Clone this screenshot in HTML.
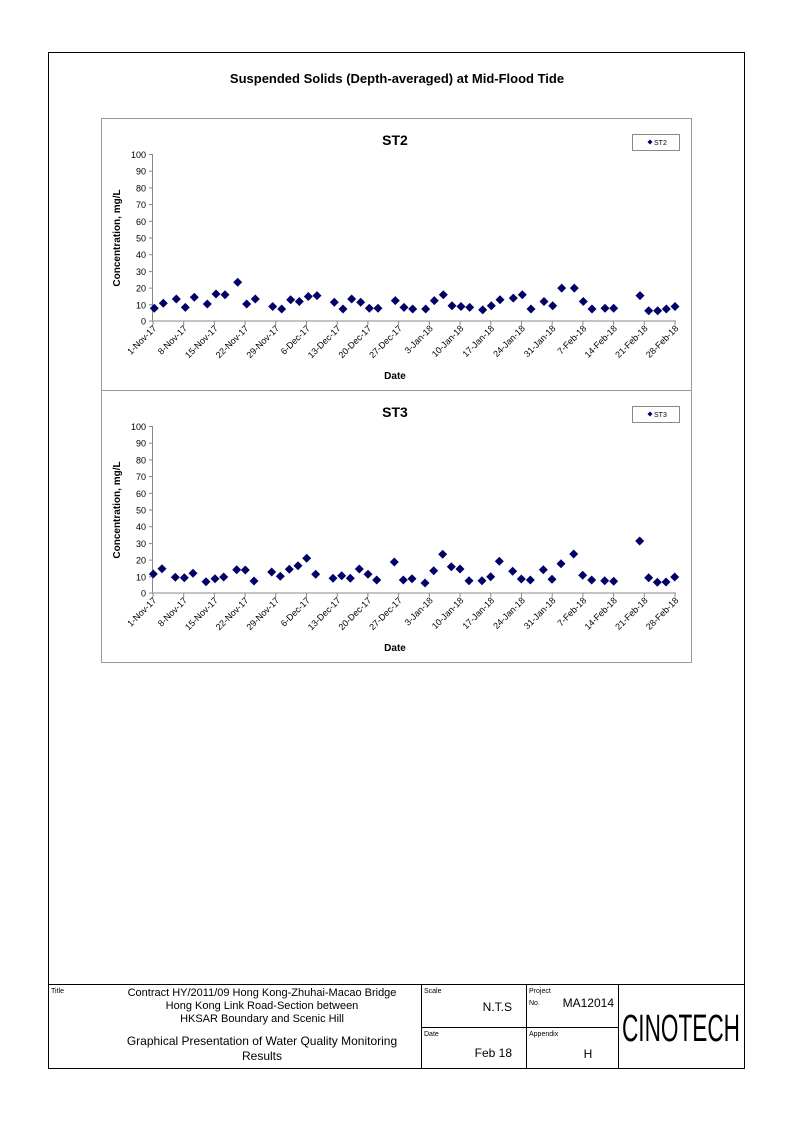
<!DOCTYPE html>
<html><head><meta charset="utf-8"><style>
html,body{margin:0;padding:0;background:#fff;}
svg text{font-family:"Liberation Sans",Arial,sans-serif;}
</style></head><body>
<svg width="794" height="1123" viewBox="0 0 794 1123" xmlns="http://www.w3.org/2000/svg">
<rect x="0" y="0" width="794" height="1123" fill="#fff"/>
<rect x="48.5" y="52.5" width="696" height="1016" fill="none" stroke="#000" stroke-width="1"/>
<text x="397" y="83" font-size="13" font-weight="bold" text-anchor="middle">Suspended Solids (Depth-averaged) at Mid-Flood Tide</text>

<!-- chart boxes -->
<rect x="101.5" y="118.5" width="590" height="272" fill="none" stroke="#999" stroke-width="1"/>
<rect x="101.5" y="390.5" width="590" height="272" fill="none" stroke="#999" stroke-width="1"/>

<defs>
<g id="axes">
<line x1="152.5" y1="0" x2="152.5" y2="167" stroke="#888"/>
<line x1="152" y1="167" x2="676" y2="167" stroke="#888"/>
<g stroke="#888">
<line x1="149" y1="0.5" x2="152" y2="0.5"/><line x1="149" y1="17.2" x2="152" y2="17.2"/><line x1="149" y1="33.9" x2="152" y2="33.9"/><line x1="149" y1="50.6" x2="152" y2="50.6"/><line x1="149" y1="67.3" x2="152" y2="67.3"/><line x1="149" y1="84" x2="152" y2="84"/><line x1="149" y1="100.7" x2="152" y2="100.7"/><line x1="149" y1="117.4" x2="152" y2="117.4"/><line x1="149" y1="134.1" x2="152" y2="134.1"/><line x1="149" y1="150.8" x2="152" y2="150.8"/><line x1="149" y1="167" x2="152" y2="167"/>
</g>
<g font-size="9" text-anchor="end">
<text x="146" y="4">100</text><text x="146" y="20.7">90</text><text x="146" y="37.4">80</text><text x="146" y="54.1">70</text><text x="146" y="70.8">60</text><text x="146" y="87.5">50</text><text x="146" y="104.2">40</text><text x="146" y="120.9">30</text><text x="146" y="137.6">20</text><text x="146" y="154.3">10</text><text x="146" y="170.5">0</text>
</g>
<g stroke="#888">
<line x1="153" y1="167" x2="153" y2="171"/><line x1="183.7" y1="167" x2="183.7" y2="171"/><line x1="214.4" y1="167" x2="214.4" y2="171"/><line x1="245.1" y1="167" x2="245.1" y2="171"/><line x1="275.8" y1="167" x2="275.8" y2="171"/><line x1="306.5" y1="167" x2="306.5" y2="171"/><line x1="337.2" y1="167" x2="337.2" y2="171"/><line x1="367.9" y1="167" x2="367.9" y2="171"/><line x1="398.6" y1="167" x2="398.6" y2="171"/><line x1="429.4" y1="167" x2="429.4" y2="171"/><line x1="460.1" y1="167" x2="460.1" y2="171"/><line x1="490.8" y1="167" x2="490.8" y2="171"/><line x1="521.5" y1="167" x2="521.5" y2="171"/><line x1="552.2" y1="167" x2="552.2" y2="171"/><line x1="582.9" y1="167" x2="582.9" y2="171"/><line x1="613.6" y1="167" x2="613.6" y2="171"/><line x1="644.3" y1="167" x2="644.3" y2="171"/><line x1="675" y1="167" x2="675" y2="171"/>
</g>
<g font-size="9" text-anchor="end">
<text transform="translate(157,175) rotate(-45)">1-Nov-17</text>
<text transform="translate(187.7,175) rotate(-45)">8-Nov-17</text>
<text transform="translate(218.4,175) rotate(-45)">15-Nov-17</text>
<text transform="translate(249.1,175) rotate(-45)">22-Nov-17</text>
<text transform="translate(279.8,175) rotate(-45)">29-Nov-17</text>
<text transform="translate(310.5,175) rotate(-45)">6-Dec-17</text>
<text transform="translate(341.2,175) rotate(-45)">13-Dec-17</text>
<text transform="translate(371.9,175) rotate(-45)">20-Dec-17</text>
<text transform="translate(402.6,175) rotate(-45)">27-Dec-17</text>
<text transform="translate(433.4,175) rotate(-45)">3-Jan-18</text>
<text transform="translate(464.1,175) rotate(-45)">10-Jan-18</text>
<text transform="translate(494.8,175) rotate(-45)">17-Jan-18</text>
<text transform="translate(525.5,175) rotate(-45)">24-Jan-18</text>
<text transform="translate(556.2,175) rotate(-45)">31-Jan-18</text>
<text transform="translate(586.9,175) rotate(-45)">7-Feb-18</text>
<text transform="translate(617.6,175) rotate(-45)">14-Feb-18</text>
<text transform="translate(648.3,175) rotate(-45)">21-Feb-18</text>
<text transform="translate(679,175) rotate(-45)">28-Feb-18</text>
</g>
<text x="395" y="225" font-size="10" font-weight="bold" text-anchor="middle">Date</text>
<text transform="translate(120,84) rotate(-90)" font-size="10" font-weight="bold" text-anchor="middle">Concentration, mg/L</text>
</g>
<path id="d" d="M0,-4.5 L4.5,0 L0,4.5 L-4.5,0 Z" fill="#000066"/>
</defs>

<!-- ST2 -->
<g transform="translate(0,154)"><use href="#axes"/></g>
<text x="395" y="145" font-size="14" font-weight="bold" text-anchor="middle">ST2</text>
<rect x="632.5" y="134.5" width="47" height="16" fill="#fff" stroke="#888"/>
<path d="M650,139.5 L652.5,142 L650,144.5 L647.5,142 Z" fill="#000066"/>
<text x="654" y="145" font-size="7">ST2</text>
<g>
<use href="#d" x="154.3" y="308.2"/><use href="#d" x="163.3" y="303.2"/><use href="#d" x="176.3" y="299"/><use href="#d" x="185.3" y="307.4"/><use href="#d" x="194.3" y="297.3"/><use href="#d" x="207.3" y="304"/><use href="#d" x="216" y="294"/><use href="#d" x="225" y="294.8"/><use href="#d" x="237.7" y="282.3"/><use href="#d" x="246.7" y="304"/><use href="#d" x="255.3" y="299"/><use href="#d" x="272.7" y="306.5"/><use href="#d" x="281.7" y="309"/><use href="#d" x="290.7" y="299.8"/><use href="#d" x="299.3" y="301.5"/><use href="#d" x="308.3" y="296.5"/><use href="#d" x="317" y="295.6"/><use href="#d" x="334.3" y="302.3"/><use href="#d" x="343" y="309"/><use href="#d" x="351.7" y="299"/><use href="#d" x="360.7" y="302.3"/><use href="#d" x="369.3" y="308.2"/><use href="#d" x="378" y="308.2"/><use href="#d" x="395.3" y="300.6"/>
<use href="#d" x="404" y="307.4"/><use href="#d" x="412.7" y="309"/><use href="#d" x="425.7" y="309"/><use href="#d" x="434.3" y="300.6"/><use href="#d" x="443.3" y="294.8"/><use href="#d" x="452" y="305.7"/><use href="#d" x="461" y="306.5"/><use href="#d" x="469.7" y="307.4"/><use href="#d" x="482.7" y="309.9"/><use href="#d" x="491.3" y="305.7"/><use href="#d" x="500" y="299.8"/><use href="#d" x="513.3" y="298.1"/><use href="#d" x="522.3" y="294.8"/><use href="#d" x="531" y="309"/><use href="#d" x="544" y="301.5"/><use href="#d" x="552.7" y="305.7"/><use href="#d" x="561.7" y="288.1"/><use href="#d" x="574.3" y="288.1"/><use href="#d" x="583.3" y="301.5"/><use href="#d" x="592" y="309"/><use href="#d" x="605" y="308.2"/><use href="#d" x="613.7" y="308.2"/><use href="#d" x="640" y="295.6"/><use href="#d" x="648.7" y="310.7"/><use href="#d" x="657.7" y="310.7"/><use href="#d" x="666.3" y="309"/><use href="#d" x="675" y="306.5"/>
</g>

<!-- ST3 -->
<g transform="translate(0,426)"><use href="#axes"/></g>
<text x="395" y="417" font-size="14" font-weight="bold" text-anchor="middle">ST3</text>
<rect x="632.5" y="406.5" width="47" height="16" fill="#fff" stroke="#888"/>
<path d="M650,411.5 L652.5,414 L650,416.5 L647.5,414 Z" fill="#000066"/>
<text x="654" y="417" font-size="7">ST3</text>
<g>
<use href="#d" x="153.3" y="574"/><use href="#d" x="162" y="568.7"/><use href="#d" x="175.3" y="577.3"/><use href="#d" x="184.3" y="577.7"/><use href="#d" x="193" y="573.3"/><use href="#d" x="206" y="581.7"/><use href="#d" x="215" y="578.7"/><use href="#d" x="223.7" y="577"/><use href="#d" x="236.7" y="569.7"/><use href="#d" x="245.3" y="570"/><use href="#d" x="254" y="581"/><use href="#d" x="271.7" y="572"/><use href="#d" x="280.3" y="576.3"/><use href="#d" x="289.3" y="569.3"/><use href="#d" x="298" y="565.7"/><use href="#d" x="306.7" y="558.3"/><use href="#d" x="315.7" y="574.3"/><use href="#d" x="333" y="578.3"/><use href="#d" x="341.7" y="575.7"/><use href="#d" x="350.3" y="578.3"/><use href="#d" x="359.3" y="569"/><use href="#d" x="368" y="574.3"/><use href="#d" x="376.7" y="580"/><use href="#d" x="394.3" y="562"/>
<use href="#d" x="403.3" y="580"/><use href="#d" x="412" y="578.7"/><use href="#d" x="425" y="583"/><use href="#d" x="433.7" y="570.7"/><use href="#d" x="442.7" y="554.3"/><use href="#d" x="451.3" y="566.7"/><use href="#d" x="460" y="569"/><use href="#d" x="469" y="580.7"/><use href="#d" x="482" y="580.7"/><use href="#d" x="490.7" y="576.7"/><use href="#d" x="499.3" y="561.3"/><use href="#d" x="512.7" y="571.3"/><use href="#d" x="521.3" y="579"/><use href="#d" x="530.3" y="580"/><use href="#d" x="543.3" y="569.7"/><use href="#d" x="552" y="579.3"/><use href="#d" x="561" y="563.7"/><use href="#d" x="573.7" y="554"/><use href="#d" x="582.7" y="575.3"/><use href="#d" x="591.7" y="580"/><use href="#d" x="604.7" y="580.7"/><use href="#d" x="613.7" y="581.3"/><use href="#d" x="639.7" y="541"/><use href="#d" x="648.7" y="577.7"/><use href="#d" x="657.3" y="582.3"/><use href="#d" x="666" y="582"/><use href="#d" x="674.7" y="577"/>
</g>

<!-- title block -->
<g stroke="#000" stroke-width="1" fill="none">
<line x1="48" y1="984.5" x2="745" y2="984.5"/>
<line x1="421.5" y1="984" x2="421.5" y2="1069"/>
<line x1="526.5" y1="984" x2="526.5" y2="1069"/>
<line x1="618.5" y1="984" x2="618.5" y2="1069"/>
<line x1="421" y1="1027.5" x2="618" y2="1027.5"/>
</g>
<g font-size="11">
<text x="51" y="993" font-size="7">Title</text>
<text x="262" y="996" text-anchor="middle">Contract HY/2011/09 Hong Kong-Zhuhai-Macao Bridge</text>
<text x="262" y="1009" text-anchor="middle">Hong Kong Link Road-Section between</text>
<text x="262" y="1022" text-anchor="middle">HKSAR Boundary and Scenic Hill</text>
<text x="262" y="1045" text-anchor="middle" font-size="12">Graphical Presentation of Water Quality Monitoring</text>
<text x="262" y="1060" text-anchor="middle" font-size="12">Results</text>
<text x="424" y="993" font-size="7">Scale</text>
<text x="512" y="1011" text-anchor="end" font-size="12">N.T.S</text>
<text x="424" y="1036" font-size="7">Date</text>
<text x="512" y="1057" text-anchor="end" font-size="12">Feb 18</text>
<text x="529" y="993" font-size="7">Project</text>
<text x="529" y="1005" font-size="7">No.</text>
<text x="614" y="1007" text-anchor="end" font-size="12">MA12014</text>
<text x="529" y="1036" font-size="7">Appendix</text>
<text x="588" y="1058" text-anchor="middle" font-size="12">H</text>
<text x="681" y="1041" text-anchor="middle" font-size="33" textLength="118" lengthAdjust="spacingAndGlyphs" transform="translate(681,1041) scale(1,1.15) translate(-681,-1041)">CINOTECH</text>
</g>
</svg>
</body></html>
